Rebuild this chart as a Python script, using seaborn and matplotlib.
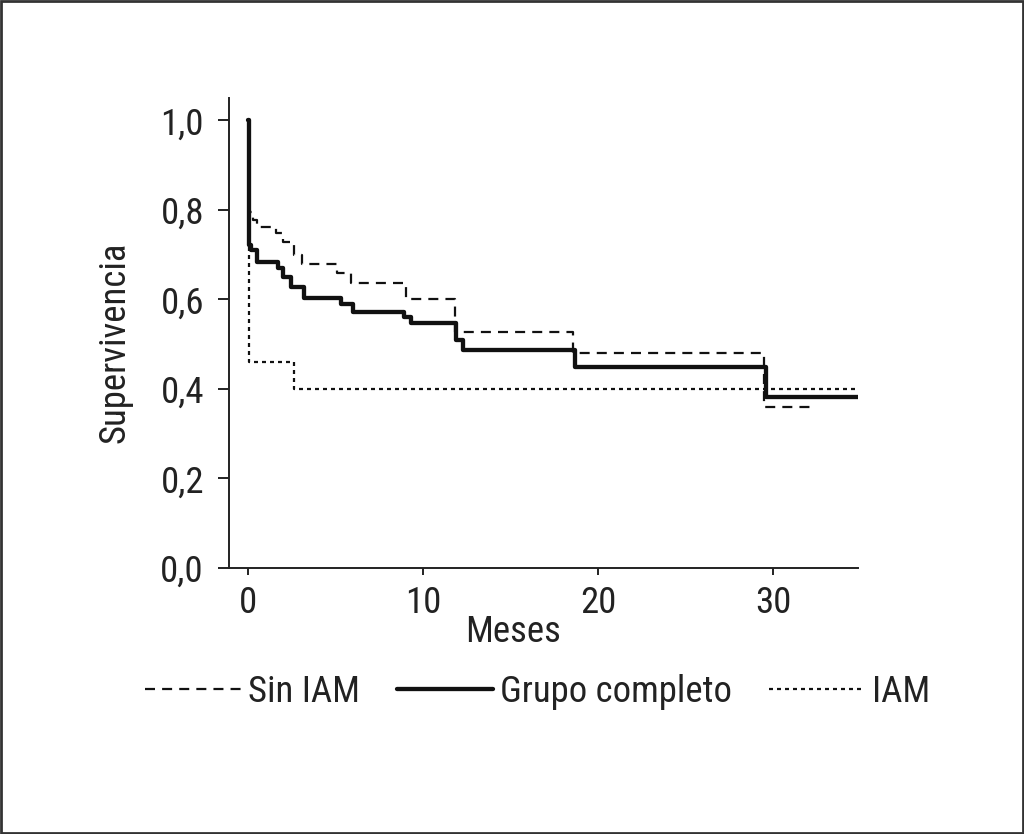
import numpy as np
import pandas as pd
import seaborn as sns
import matplotlib.pyplot as plt
from matplotlib.patches import Rectangle

# Kaplan-Meier curves (months, survival)
sin_iam_t = [0, 0.05, 0.3, 0.5, 1.6, 2.0, 2.6, 3.1, 5.1, 5.9, 9.0, 11.8, 18.6, 29.5, 32.3]
sin_iam_s = [1.0, 0.795, 0.777, 0.761, 0.748, 0.728, 0.70, 0.68, 0.658, 0.636, 0.60, 0.527, 0.48, 0.36, 0.36]

grupo_t = [0, 0.05, 0.17, 0.5, 1.7, 2.0, 2.45, 3.2, 5.3, 6.0, 8.9, 9.3, 11.9, 12.3, 18.7, 29.6, 35.0]
grupo_s = [1.0, 0.721, 0.71, 0.683, 0.67, 0.65, 0.627, 0.603, 0.589, 0.571, 0.56, 0.547, 0.509, 0.487, 0.449, 0.382, 0.382]

iam_t = [0, 0.05, 2.6, 35.0]
iam_s = [1.0, 0.46, 0.40, 0.40]

yticks = [0.0, 0.2, 0.4, 0.6, 0.8, 1.0]
ytick_labels = ["0,0", "0,2", "0,4", "0,6", "0,8", "1,0"]
xticks = [0, 10, 20, 30]

sns.set_style("ticks")
plt.rcParams['font.family'] = ['Roboto Condensed', 'Liberation Sans Narrow', 'Liberation Sans', 'DejaVu Sans']

fig = plt.figure(figsize=(10.24, 8.34), dpi=100)
ax = fig.add_axes([0.2236, 0.319, 0.6143, 0.5635])

df_sin = pd.DataFrame({"t": sin_iam_t, "s": sin_iam_s})
df_grp = pd.DataFrame({"t": grupo_t, "s": grupo_s})
df_iam = pd.DataFrame({"t": iam_t, "s": iam_s})

sns.lineplot(data=df_sin, x="t", y="s", ax=ax, color="#111111", lw=1.6,
             drawstyle="steps-post", estimator=None, label="Sin IAM")
ax.lines[-1].set_dashes([4.5, 3.2])
sns.lineplot(data=df_grp, x="t", y="s", ax=ax, color="#111111", lw=3.1,
             drawstyle="steps-post", estimator=None, label="Grupo completo")
sns.lineplot(data=df_iam, x="t", y="s", ax=ax, color="#111111", lw=1.6,
             drawstyle="steps-post", estimator=None, label="IAM")
ax.lines[-1].set_dashes([1.8, 1.8])

ax.set_xlim(-1.09, 34.86)
ax.set_ylim(0, 1.05)
ax.set_xticks(xticks)
ax.set_yticks(yticks)
ax.set_yticklabels(ytick_labels)
ax.tick_params(labelsize=26.5, width=1.4, color="#222222", labelcolor="#222222")
ax.tick_params(axis="y", length=8, pad=10)
ax.tick_params(axis="x", length=5, pad=7)
for sp in ["left", "bottom"]:
    ax.spines[sp].set_linewidth(1.4)
    ax.spines[sp].set_color("#222222")
sns.despine(ax=ax)

ax.set_xlabel("Meses", fontsize=26.5, color="#222222")
ax.set_ylabel("Supervivencia", fontsize=26.5, color="#222222")
ax.xaxis.set_label_coords(0.451, -0.097)
ax.yaxis.set_label_coords(-0.153, 0.48)

ax.get_legend().remove()
handles, labels = ax.get_legend_handles_labels()
fig.legend(handles, labels, loc="center", bbox_to_anchor=(0.525, 0.17), ncol=3,
           frameon=False, fontsize=26.5, handlelength=2.6, handletextpad=0.2,
           columnspacing=1.0, labelcolor="#222222")

fig.patches.append(Rectangle((0.001, 0.001), 0.998, 0.998, transform=fig.transFigure,
                             fill=False, edgecolor="#333333", lw=2))

fig.savefig("out.png", dpi=100, facecolor="white")
